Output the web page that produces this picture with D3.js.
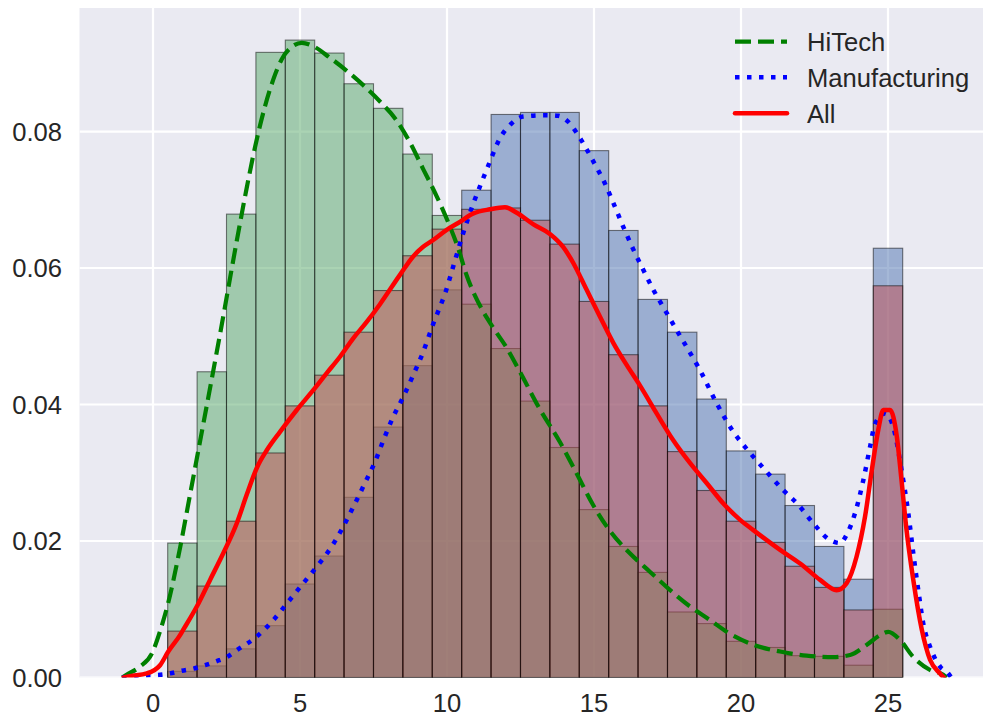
<!DOCTYPE html>
<html>
<head>
<meta charset="utf-8">
<script src="https://cdn.jsdelivr.net/npm/d3@7"></script>
<style>
  html, body { margin: 0; padding: 0; background: #ffffff; }
  svg { display: block; }
  text { font-family: "Liberation Sans", Arial, Helvetica, sans-serif; fill: #262626; }
</style>
</head>
<body>
<svg id="chart" width="983" height="719"></svg>
<script>
// ---------- data ----------
const binEdges = [0.5, 1.5, 2.5, 3.5, 4.5, 5.5, 6.5, 7.5, 8.5, 9.5, 10.5, 11.5, 12.5,
                  13.5, 14.5, 15.5, 16.5, 17.5, 18.5, 19.5, 20.5, 21.5, 22.5, 23.5, 24.5, 25.5];

const histHiTech = [0.0197, 0.0448, 0.0679, 0.0916, 0.0934, 0.0915, 0.0870, 0.0834, 0.0767, 0.0677,
                    0.0547, 0.0482, 0.0405, 0.0337, 0.0246, 0.0192, 0.0154, 0.0096, 0.0079, 0.0053,
                    0.0044, 0.0032, 0.0031, 0.0018, 0.0100];
const histManufacturing = [0.0009, 0.0017, 0.0042, 0.0076, 0.0137, 0.0178, 0.0264, 0.0367, 0.0457, 0.0568,
                           0.0714, 0.0825, 0.0828, 0.0828, 0.0772, 0.0655, 0.0554, 0.0506, 0.0408, 0.0332,
                           0.0298, 0.0252, 0.0192, 0.0144, 0.0629];
const histAll = [0.0068, 0.0134, 0.0229, 0.0329, 0.0398, 0.0443, 0.0506, 0.0567, 0.0618, 0.0657,
                 0.0686, 0.0688, 0.0670, 0.0635, 0.0551, 0.0473, 0.0398, 0.0331, 0.0274, 0.0229,
                 0.0198, 0.0163, 0.0132, 0.0099, 0.0574];

const kdeHiTechX = [-1.05, -0.9, -0.44, -0.04, 0.24, 0.52, 0.92, 1.26, 1.6, 1.94, 2.28, 2.85, 3.19, 3.47,
  3.81, 4.09, 4.38, 4.72, 5.06, 5.45, 6.02, 6.59, 7.15, 7.72, 8.29, 8.74, 9.19, 9.65, 10.04, 10.38,
  10.67, 11.12, 11.58, 12.03, 12.48, 13.16, 13.84, 14.41, 14.98, 15.54, 16.22, 16.9, 17.59, 18.27,
  18.95, 19.55, 20.42, 21.33, 22.23, 23.14, 23.71, 24.28, 24.73, 25.01, 25.41, 25.86, 26.43, 26.88, 27.0];
const kdeHiTechY = [0, 0.0004, 0.0016, 0.0035, 0.0068, 0.0110, 0.0190, 0.0268, 0.0346, 0.0424, 0.0503, 0.0640,
  0.0718, 0.0777, 0.0837, 0.0876, 0.0906, 0.0924, 0.0930, 0.0925, 0.0908, 0.0889, 0.0868, 0.0844,
  0.0816, 0.0784, 0.0745, 0.0705, 0.0667, 0.0629, 0.0589, 0.0545, 0.0512, 0.0483, 0.0448, 0.0393,
  0.0345, 0.0299, 0.0252, 0.0215, 0.0182, 0.0155, 0.0128, 0.0104, 0.0084, 0.0066, 0.0048, 0.0038,
  0.0032, 0.0030, 0.0033, 0.0048, 0.0062, 0.0067, 0.0055, 0.0030, 0.0011, 0.0004, 0];

const kdeManufacturingX = [-1.05, -0.44, 0.24, 0.58, 0.98, 1.37, 1.77, 2.17, 2.51, 2.85, 3.53, 4.09, 4.6,
  5.11, 5.62, 6.08, 6.47, 6.87, 7.21, 7.55, 7.84, 8.17, 8.51, 8.85, 9.19, 9.53, 9.76, 9.93, 10.21,
  10.55, 10.9, 11.18, 11.46, 11.74, 12.2, 12.59, 13.39, 13.79, 14.13, 14.41, 14.75, 15.03, 15.37,
  15.66, 16.0, 16.34, 16.68, 17.02, 17.42, 17.81, 18.21, 18.61, 19.17, 19.74, 20.31, 20.82, 21.38,
  21.95, 22.46, 22.97, 23.37, 23.59, 23.88, 24.16, 24.39, 24.56, 24.9, 25.18, 25.46, 25.69, 25.86,
  26.03, 26.2, 26.43, 26.77, 27.05, 27.15];
const kdeManufacturingY = [0, 0.0003, 0.0004, 0.0006, 0.0010, 0.0013, 0.0018, 0.0024, 0.0030, 0.0040, 0.0060,
  0.0084, 0.0111, 0.0138, 0.0165, 0.0192, 0.0221, 0.0255, 0.0285, 0.0316, 0.0348, 0.0382, 0.0411,
  0.0443, 0.0477, 0.0518, 0.0543, 0.0562, 0.0602, 0.0651, 0.0695, 0.0726, 0.0756, 0.0785, 0.0812,
  0.0822, 0.0824, 0.0823, 0.0814, 0.0798, 0.0774, 0.0752, 0.0724, 0.0695, 0.0660, 0.0627, 0.0597,
  0.0568, 0.0538, 0.0509, 0.0480, 0.0450, 0.0402, 0.0360, 0.0329, 0.0304, 0.0277, 0.0253, 0.0226,
  0.0203, 0.0197, 0.0209, 0.0241, 0.0289, 0.0338, 0.0372, 0.0387, 0.0367, 0.0304, 0.0241, 0.0182,
  0.0128, 0.0079, 0.0045, 0.0016, 0.0006, 0];

const kdeAllX = [-1.0, -0.78, -0.21, 0.24, 0.52, 0.92, 1.03, 1.49, 1.94, 2.39, 2.85, 3.19, 3.53, 3.87,
  4.32, 4.89, 5.45, 5.91, 6.36, 6.81, 7.27, 7.72, 8.4, 8.85, 9.19, 9.53, 9.99, 10.38, 10.9, 11.46,
  11.97, 12.37, 12.94, 13.5, 13.95, 14.3, 14.75, 15.2, 15.66, 16.11, 16.56, 17.13, 17.69, 18.27,
  18.83, 19.4, 19.97, 20.42, 21.33, 22.01, 22.69, 23.25, 23.59, 23.93, 24.22, 24.45, 24.67, 24.84,
  25.07, 25.3, 25.46, 25.63, 25.86, 26.15, 26.43, 26.77, 26.9];
const kdeAllY = [0, 0.0002, 0.0006, 0.0018, 0.0038, 0.0062, 0.0070, 0.0104, 0.0143, 0.0182, 0.0226, 0.0268,
  0.0307, 0.0333, 0.0360, 0.0392, 0.0421, 0.0446, 0.0470, 0.0497, 0.0521, 0.0547, 0.0590, 0.0617,
  0.0631, 0.0641, 0.0656, 0.0666, 0.0680, 0.0686, 0.0689, 0.0681, 0.0664, 0.0650, 0.0631, 0.0607,
  0.0568, 0.0529, 0.0490, 0.0458, 0.0428, 0.0387, 0.0348, 0.0314, 0.0285, 0.0255, 0.0231, 0.0216,
  0.0187, 0.0167, 0.0143, 0.0128, 0.0138, 0.0177, 0.0236, 0.0304, 0.0363, 0.0392, 0.0392, 0.0353,
  0.0289, 0.0216, 0.0143, 0.0070, 0.0026, 0.0006, 0];

const xTicks = [0, 5, 10, 15, 20, 25];
const yTicks = [0.00, 0.02, 0.04, 0.06, 0.08];
const seriesNames = ["HiTech", "Manufacturing", "All"];

// ---------- layout ----------
const plotLeft = 79.5, plotTop = 8, plotBottom = 677.5, plotRight = 983;
const svg = d3.select("#chart");

const x = d3.scaleLinear().domain([-2.5, 28.5]).range([79.5, 990.9]);
const y = d3.scaleLinear().domain([0, 0.0981]).range([plotBottom, plotTop]);

svg.append("defs").append("clipPath").attr("id", "plotclip")
  .append("rect").attr("x", plotLeft).attr("y", plotTop)
  .attr("width", plotRight - plotLeft).attr("height", plotBottom - plotTop);

// background
svg.append("rect").attr("x", plotLeft).attr("y", plotTop)
  .attr("width", plotRight - plotLeft).attr("height", plotBottom - plotTop)
  .attr("fill", "#EAEAF2");

const plot = svg.append("g").attr("clip-path", "url(#plotclip)");

// grid
plot.append("g").selectAll("line").data(xTicks).join("line")
  .attr("x1", d => x(d)).attr("x2", d => x(d))
  .attr("y1", plotTop).attr("y2", plotBottom)
  .attr("stroke", "#ffffff").attr("stroke-width", 2.2);
plot.append("g").selectAll("line").data(yTicks).join("line")
  .attr("x1", plotLeft).attr("x2", plotRight)
  .attr("y1", d => y(d)).attr("y2", d => y(d))
  .attr("stroke", "#ffffff").attr("stroke-width", 2.2);

// histograms
function drawHist(values, color) {
  const bins = values.map((v, i) => ({ x0: binEdges[i], x1: binEdges[i + 1], v }));
  plot.append("g").selectAll("rect").data(bins).join("rect")
    .attr("x", d => x(d.x0))
    .attr("y", d => y(d.v))
    .attr("width", d => x(d.x1) - x(d.x0))
    .attr("height", d => y(0) - y(d.v))
    .attr("fill", color).attr("fill-opacity", 0.5)
    .attr("stroke", "#000").attr("stroke-opacity", 0.5).attr("stroke-width", 1.1);
}
drawHist(histManufacturing, "#4C72B0");
drawHist(histHiTech, "#55A868");
drawHist(histAll, "#C44E52");

// KDE lines
const line = d3.line().x(d => x(d[0])).y(d => y(d[1])).curve(d3.curveMonotoneX);
function drawLine(xs, ys, color, width, dash) {
  const pts = xs.map((v, i) => [v, ys[i]]);
  const p = plot.append("path").datum(pts).attr("d", line)
    .attr("fill", "none").attr("stroke", color).attr("stroke-width", width)
    .attr("stroke-linejoin", "round");
  if (dash) p.attr("stroke-dasharray", dash).attr("stroke-linecap", "butt");
  else p.attr("stroke-linecap", "round");
}
drawLine(kdeHiTechX, kdeHiTechY, "#008000", 4.2, "16,7");
drawLine(kdeManufacturingX, kdeManufacturingY, "#0000ff", 4.5, "4.5,7.5");
drawLine(kdeAllX, kdeAllY, "#ff0000", 4.5, null);

// tick labels
const fs = 25.6;
svg.append("g").selectAll("text").data(xTicks).join("text")
  .attr("x", d => x(d)).attr("y", 711.5)
  .attr("text-anchor", "middle").attr("font-size", fs)
  .text(d => d);
svg.append("g").selectAll("text").data(yTicks).join("text")
  .attr("x", 62).attr("y", d => y(d)).attr("dy", "0.36em")
  .attr("text-anchor", "end").attr("font-size", fs)
  .text(d => d3.format(".2f")(d));

// legend
const legendItems = [
  { name: seriesNames[0], color: "#008000", width: 4.2, dash: "16,7" },
  { name: seriesNames[1], color: "#0000ff", width: 4.5, dash: "4.5,7.5" },
  { name: seriesNames[2], color: "#ff0000", width: 4.5, dash: null }
];
const lg = svg.append("g");
const legendY = [41.7, 77.3, 113.3];
legendItems.forEach((it, i) => {
  const l = lg.append("line").attr("x1", 735).attr("x2", 787)
    .attr("y1", legendY[i]).attr("y2", legendY[i])
    .attr("stroke", it.color).attr("stroke-width", it.width);
  if (it.dash) l.attr("stroke-dasharray", it.dash);
  else l.attr("stroke-linecap", "round");
  lg.append("text").attr("x", 807).attr("y", legendY[i]).attr("dy", "0.36em")
    .attr("font-size", fs).text(it.name);
});
</script>
</body>
</html>
